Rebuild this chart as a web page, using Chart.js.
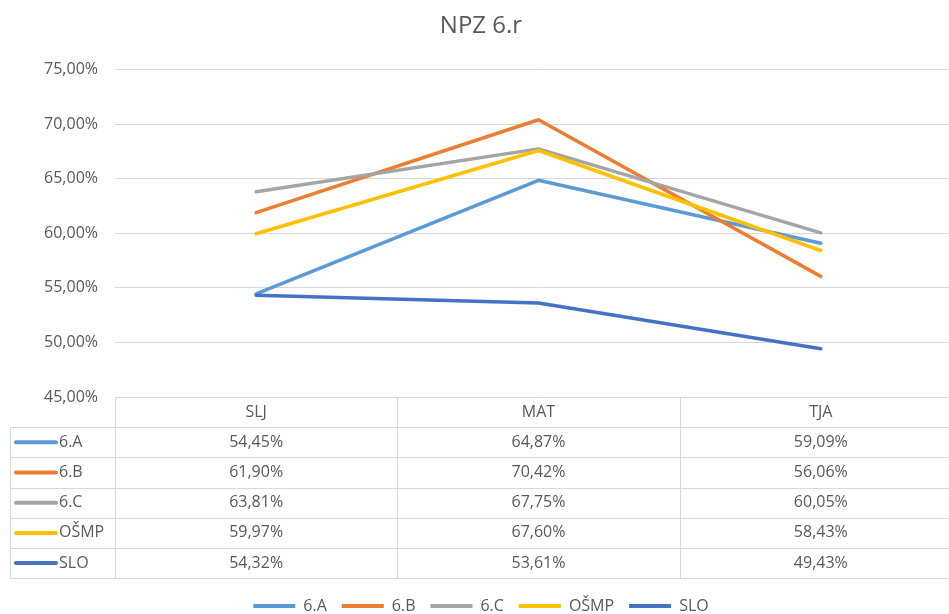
<!DOCTYPE html>
<html>
<head>
<meta charset="utf-8">
<script src="https://cdn.jsdelivr.net/npm/chart.js@4"></script>
<style>
  html, body { margin: 0; padding: 0; background: #fff; overflow: hidden; }
  #wrap { width: 949px; height: 614px; overflow: hidden; }
</style>
</head>
<body>
<div id="wrap"><canvas id="chart_id" width="962" height="624"></canvas></div>
<script>
const categories = ["SLJ", "MAT", "TJA"];
const seriesNames = ["6.A", "6.B", "6.C", "OŠMP", "SLO"];
const colors = ["#5B9BD5", "#ED7D31", "#A5A5A5", "#FFC000", "#4472C4"];
const values_6A = [54.45, 64.87, 59.09];
const values_6B = [61.90, 70.42, 56.06];
const values_6C = [63.81, 67.75, 60.05];
const values_OSMP = [59.97, 67.60, 58.43];
const values_SLO = [54.32, 53.61, 49.43];
const yMin = 45;
const yMax = 75;
const yStep = 5;

const allValues = [values_6A, values_6B, values_6C, values_OSMP, values_SLO];
const textColor = "#595959";
const gridColor = "#D9D9D9";
const rowH = 30.2;

Chart.defaults.font.family = "'Open Sans', sans-serif";
Chart.defaults.color = textColor;

function pct(v) {
  return v.toFixed(2).replace(".", ",") + "%";
}

// data table drawn under the plot, columns follow the x scale
const dataTable = {
  id: "dataTable",
  afterDraw(chart) {
    const ctx = chart.ctx;
    const xs = chart.scales.x;
    const area = chart.chartArea;
    const colW = xs.width / categories.length;
    const top = area.bottom;
    const bottom = top + rowH * (seriesNames.length + 1);
    ctx.save();
    ctx.strokeStyle = gridColor;
    ctx.lineWidth = 1;
    ctx.beginPath();
    for (let r = 1; r <= seriesNames.length + 1; r++) {
      const y = Math.round(top + rowH * r) + 0.5;
      ctx.moveTo(10, y);
      ctx.lineTo(area.right, y);
    }
    ctx.moveTo(10.5, top + rowH);
    ctx.lineTo(10.5, bottom);
    for (let c = 0; c < categories.length; c++) {
      const x = Math.round(xs.getPixelForValue(c) - colW / 2) + 0.5;
      ctx.moveTo(x, top);
      ctx.lineTo(x, bottom);
    }
    ctx.stroke();

    ctx.font = "16px 'Open Sans', sans-serif";
    ctx.fillStyle = textColor;
    ctx.textBaseline = "middle";
    ctx.textAlign = "center";
    categories.forEach((cat, c) => {
      ctx.fillText(cat, xs.getPixelForValue(c), top + rowH / 2);
    });
    seriesNames.forEach((name, s) => {
      const y = top + rowH * (s + 1.5);
      ctx.strokeStyle = colors[s];
      ctx.lineWidth = 4;
      ctx.lineCap = "round";
      ctx.beginPath();
      ctx.moveTo(16, y);
      ctx.lineTo(56, y);
      ctx.stroke();
      ctx.textAlign = "left";
      ctx.fillText(name, 59, y);
      ctx.textAlign = "center";
      allValues[s].forEach((v, c) => {
        ctx.fillText(pct(v), xs.getPixelForValue(c), y);
      });
    });
    ctx.restore();
  }
};

const datasets = seriesNames.map((name, i) => ({
  label: name,
  data: allValues[i],
  borderColor: colors[i],
  backgroundColor: colors[i],
  borderWidth: 3.5,
  borderCapStyle: "round",
  borderJoinStyle: "round",
  pointRadius: 0,
  tension: 0,
  fill: false,
  order: seriesNames.length - i
}));

new Chart(document.getElementById("chart_id"), {
  type: "line",
  data: { labels: categories, datasets: datasets },
  plugins: [dataTable],
  options: {
    responsive: false,
    animation: false,
    devicePixelRatio: 1,
    layout: { padding: { left: 0, right: 0, top: 0, bottom: 0 } },
    scales: {
      x: {
        offset: true,
        grid: { display: false },
        border: { display: false },
        ticks: { display: false },
        afterFit: (scale) => { scale.height = 186; }
      },
      y: {
        min: yMin,
        max: yMax,
        grid: { color: gridColor, lineWidth: 1, drawTicks: false },
        border: { display: false },
        ticks: {
          stepSize: yStep,
          padding: 17,
          font: { size: 16 },
          callback: (v) => pct(v)
        },
        afterFit: (scale) => { scale.width = 115; }
      }
    },
    plugins: {
      title: {
        display: true,
        text: "NPZ 6.r",
        font: { size: 24, weight: "normal" },
        color: textColor,
        padding: { top: 12, bottom: 29 }
      },
      legend: {
        position: "bottom",
        labels: {
          boxWidth: 42,
          boxHeight: 4,
          padding: 15,
          font: { size: 16 },
          color: textColor,
          sort: (a, b) => a.datasetIndex - b.datasetIndex,
          generateLabels: (chart) => Chart.defaults.plugins.legend.labels.generateLabels(chart).map((l) => ({ ...l, lineWidth: 0, fillStyle: colors[l.datasetIndex] }))
        }
      },
      tooltip: { enabled: false }
    }
  }
});
</script>
</body>
</html>
